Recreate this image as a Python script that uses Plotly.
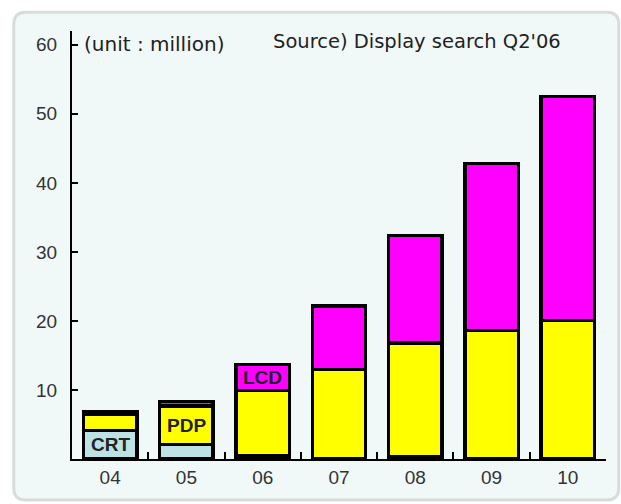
import plotly.graph_objects as go

years = ["04", "05", "06", "07", "08", "09", "10"]
crt = [4.1, 2.1, 0.4, 0.0, 0.3, 0.0, 0.0]
pdp = [2.4, 5.6, 9.5, 13.0, 16.5, 18.6, 20.1]
lcd = [0.3, 0.6, 3.8, 9.2, 15.6, 24.2, 32.4]
y_ticks = [10, 20, 30, 40, 50, 60]

colors = {"CRT": "#bde2e5", "PDP": "#ffff00", "LCD": "#ff00ff"}
series = [("CRT", crt), ("PDP", pdp), ("LCD", lcd)]

fig = go.Figure()
for name, vals in series:
    fig.add_trace(go.Bar(
        x=years, y=vals, name=name, width=0.7,
        marker=dict(color=colors[name], line=dict(color="black", width=3.5)),
        showlegend=False, hoverinfo="x+y+name",
    ))

# segment labels at the segment midpoints (category index for x)
lab_font = dict(family="Liberation Sans, Arial, sans-serif", size=19, color="#222", weight="bold")
base = [0.0] * len(years)
label_at = {"CRT": 0, "PDP": 1, "LCD": 2}
for name, vals in series:
    i = label_at[name]
    mid = base[i] + vals[i] / 2
    fig.add_annotation(x=i, y=mid, text=name, showarrow=False, font=lab_font)
    base = [b + v for b, v in zip(base, vals)]

# rounded background panel
x0, x1, y0, y1 = -0.109, 1.024, -0.096, 1.044
rx, ry = 0.0225, 0.028
path = (f"M {x0+rx},{y0} L {x1-rx},{y0} Q {x1},{y0} {x1},{y0+ry} "
        f"L {x1},{y1-ry} Q {x1},{y1} {x1-rx},{y1} L {x0+rx},{y1} "
        f"Q {x0},{y1} {x0},{y1-ry} L {x0},{y0+ry} Q {x0},{y0} {x0+rx},{y0} Z")
fig.add_shape(type="path", path=path, xref="paper", yref="paper", layer="below",
              fillcolor="#f1f8f8", line=dict(color="#d8dcdc", width=3))

txt_font = dict(family="DejaVu Sans, sans-serif", color="#222")
fig.add_annotation(xref="paper", yref="paper", x=0.019, y=0.970, xanchor="left", yanchor="middle",
                   text="(unit : million)", showarrow=False, font=dict(size=20, **txt_font))
fig.add_annotation(xref="paper", yref="paper", x=0.373, y=0.975, xanchor="left", yanchor="middle",
                   text="Source) Display search Q2'06", showarrow=False, font=dict(size=19.5, **txt_font))

tick_font = dict(family="Liberation Sans, Arial, sans-serif", size=19, color="#333")
fig.update_layout(
    barmode="stack",
    width=621, height=504,
    margin=dict(l=72, r=15, t=31, b=45),
    paper_bgcolor="white",
    plot_bgcolor="rgba(0,0,0,0)",
    xaxis=dict(type="category", showline=True, linecolor="black", linewidth=2,
               ticks="inside", tickson="boundaries", ticklen=7, tickwidth=1.5, tickcolor="black",
               tickfont=tick_font, showgrid=False, zeroline=False),
    yaxis=dict(range=[0, 62], showline=True, linecolor="black", linewidth=2,
               ticks="inside", ticklen=6, tickwidth=1.5, tickcolor="black", ticklabelstandoff=9,
               tickvals=y_ticks, tickfont=tick_font, showgrid=False, zeroline=False),
)

fig.write_html("out.html", config={"displayModeBar": False},
               post_script="document.body.style.margin='0';document.body.style.overflow='hidden';")
